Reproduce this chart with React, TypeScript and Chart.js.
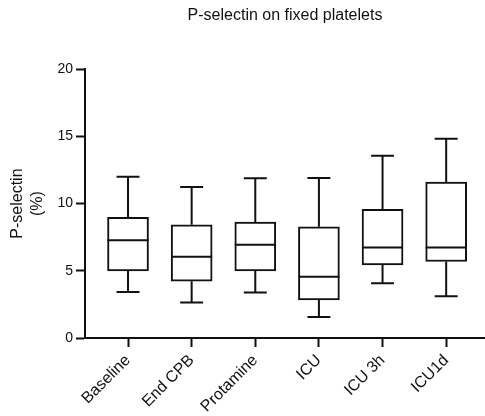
import React, { useEffect, useRef } from "react";
import { Chart, registerables } from "chart.js";

Chart.register(...registerables);

const categories = ["Baseline", "End CPB", "Protamine", "ICU", "ICU 3h", "ICU1d"];
const whiskerMin = [3.43, 2.64, 3.38, 1.56, 4.08, 3.11];
const quartile1 = [4.99, 4.22, 4.99, 2.83, 5.44, 5.69];
const medians = [7.28, 6.04, 6.93, 4.55, 6.74, 6.74];
const quartile3 = [8.97, 8.42, 8.62, 8.27, 9.57, 11.6];
const whiskerMax = [12.0, 11.23, 11.88, 11.9, 13.56, 14.83];
const yTicks = [0, 5, 10, 15, 20];

const FONT = "'Liberation Sans', Arial, sans-serif";
const INK = "#111";

const whiskerPlugin = {
  id: "whiskers",
  afterDatasetsDraw(chart: any) {
    const { ctx } = chart;
    const y = chart.scales.y;
    const meta = chart.getDatasetMeta(0);
    ctx.save();
    ctx.strokeStyle = INK;
    ctx.lineWidth = 2;
    ctx.lineCap = "butt";
    categories.forEach((_, i) => {
      const bar = meta.data[i];
      if (!bar) return;
      const cx = bar.x;
      const half = bar.width / 2;
      const capHalf = bar.width * 0.28;
      const yMin = y.getPixelForValue(whiskerMin[i]);
      const yMax = y.getPixelForValue(whiskerMax[i]);
      const yQ1 = y.getPixelForValue(quartile1[i]);
      const yQ3 = y.getPixelForValue(quartile3[i]);
      const yMed = y.getPixelForValue(medians[i]);
      ctx.beginPath();
      ctx.moveTo(cx, yQ3);
      ctx.lineTo(cx, yMax);
      ctx.moveTo(cx - capHalf, yMax);
      ctx.lineTo(cx + capHalf, yMax);
      ctx.moveTo(cx, yQ1);
      ctx.lineTo(cx, yMin);
      ctx.moveTo(cx - capHalf, yMin);
      ctx.lineTo(cx + capHalf, yMin);
      ctx.moveTo(cx - half, yMed);
      ctx.lineTo(cx + half, yMed);
      ctx.stroke();
    });
    ctx.restore();
  },
};

export default function App() {
  const canvasRef = useRef<HTMLCanvasElement | null>(null);

  useEffect(() => {
    if (!canvasRef.current) return;
    const chart = new Chart(canvasRef.current, {
      type: "bar",
      data: {
        datasets: [
          {
            data: categories.map((_, i) => ({ x: i, y: [quartile1[i], quartile3[i]] })) as any,
            backgroundColor: "#fff",
            borderColor: INK,
            borderWidth: 2,
            borderSkipped: false,
            barThickness: 41,
          },
        ],
      },
      options: {
        responsive: false,
        animation: false,
        layout: { padding: 0 },
        plugins: {
          legend: { display: false },
          tooltip: { enabled: false },
          title: {
            display: true,
            text: "P-selectin on fixed platelets",
            fullSize: false,
            color: INK,
            font: { family: FONT, size: 16, weight: "normal" },
            padding: { top: 6, bottom: 44 },
          },
        },
        scales: {
          x: {
            type: "linear",
            offset: false,
            min: -0.676,
            max: 5.61,
            bounds: "data",
            afterBuildTicks: (scale: any) => {
              scale.ticks = categories.map((_, i) => ({ value: i }));
            },
            afterFit: (scale: any) => {
              scale.height = 78;
            },
            grid: {
              offset: false,
              drawOnChartArea: false,
              drawTicks: true,
              tickLength: 9,
              tickWidth: 2,
              tickColor: INK,
            },
            border: { display: true, width: 2, color: INK },
            ticks: {
              autoSkip: false,
              minRotation: 45,
              maxRotation: 45,
              padding: 4,
              color: INK,
              font: { family: FONT, size: 16 },
              callback: (v: any) => categories[Math.round(Number(v))] ?? "",
            },
          },
          y: {
            type: "linear",
            min: 0,
            max: 20,
            afterBuildTicks: (scale: any) => {
              scale.ticks = yTicks.map((v) => ({ value: v }));
            },
            afterFit: (scale: any) => {
              scale.width = 85;
            },
            grid: {
              drawOnChartArea: false,
              drawTicks: true,
              tickLength: 9,
              tickWidth: 2,
              tickColor: INK,
            },
            border: { display: true, width: 2, color: INK },
            ticks: {
              padding: 3,
              color: INK,
              font: { family: FONT, size: 14 },
            },
            title: {
              display: true,
              text: ["P-selectin", "(%)"],
              color: INK,
              font: { family: FONT, size: 16, lineHeight: 1.25 },
              padding: { top: 8, bottom: 0 },
            },
          },
        },
      },
      plugins: [whiskerPlugin],
    });
    return () => chart.destroy();
  }, []);

  return (
    <div style={{ position: "absolute", left: 0, top: 0, width: 485, height: 416 }}>
      <canvas ref={canvasRef} width={485} height={416} />
    </div>
  );
}
